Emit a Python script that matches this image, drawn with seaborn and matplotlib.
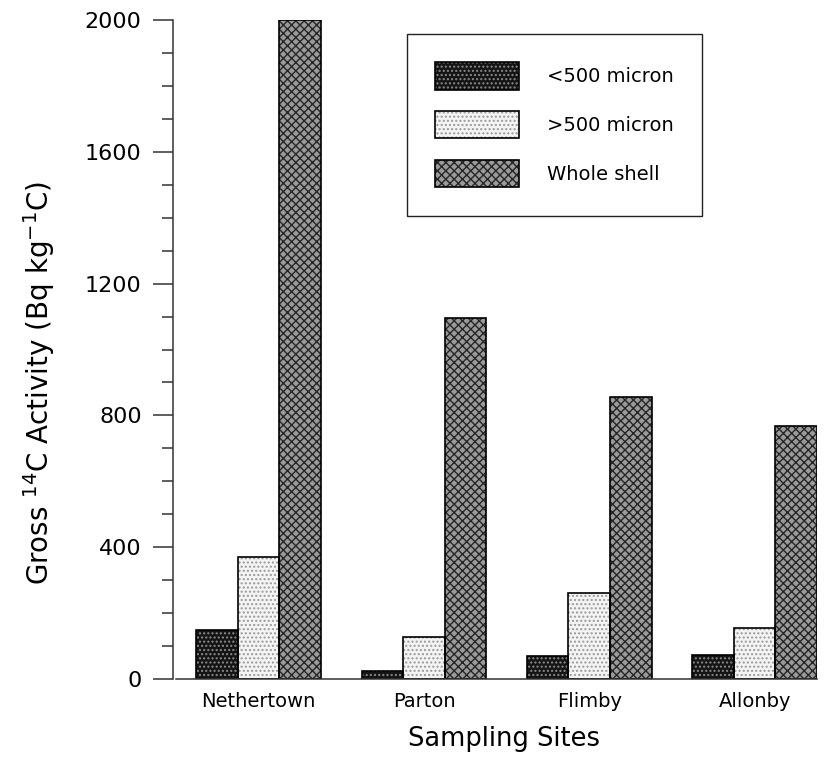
import matplotlib
matplotlib.use('Agg')
import matplotlib.pyplot as plt
from matplotlib.ticker import MultipleLocator
import seaborn as sns
import pandas as pd

# values (Bq kg-1 C)
sites = ['Nethertown', 'Parton', 'Flimby', 'Allonby']
fractions = ['<500 micron', '>500 micron', 'Whole shell']
fine = [150, 25, 70, 72]
coarse = [370, 128, 260, 154]
whole = [2000, 1095, 857, 769]

df = pd.DataFrame({
    'site': sites * 3,
    'fraction': [f for f in fractions for _ in sites],
    'activity': fine + coarse + whole,
})

sns.set_style('ticks')
plt.rcParams['font.family'] = ['DejaVu Sans']
plt.rcParams['hatch.linewidth'] = 1.0
plt.rcParams['text.color'] = 'black'
plt.rcParams['axes.labelcolor'] = 'black'
plt.rcParams['xtick.color'] = 'black'
plt.rcParams['ytick.color'] = 'black'

fig = plt.figure(figsize=(8.3, 7.69), dpi=100)
ax = fig.add_axes([0.2084, 0.117, 0.7759, 0.857])

# stippled fills: base colour + dot colour + hatch
fills = ['#141414', '#f4f4f4', '#9a9a9a']
dots = ['#8a8a8a', '#9a9a9a', '#262626']
hatches = ['....', '....', 'xxxx']

sns.barplot(data=df, x='site', y='activity', hue='fraction', order=sites,
            hue_order=fractions, palette=fills, width=0.755, legend=False,
            ax=ax, linewidth=0)
for cont, ec, h in zip(ax.containers, dots, hatches):
    for p in cont:
        p.set_edgecolor(ec)
        p.set_hatch(h)
        p.set_linewidth(0)
n_fill = len(ax.containers)

# black outlines drawn on top
sns.barplot(data=df, x='site', y='activity', hue='fraction', order=sites,
            hue_order=fractions, palette=['black'] * 3, width=0.755,
            fill=False, legend=False, ax=ax, linewidth=1.2)
outlines = ax.containers[n_fill:]
fills_c = ax.containers[:n_fill]

ax.set_xlim(-0.518, 3.377)
ax.set_ylim(0, 2000)
ax.yaxis.set_major_locator(MultipleLocator(400))
ax.yaxis.set_minor_locator(MultipleLocator(100))
ax.tick_params(axis='y', which='major', direction='out', length=14.5,
               width=1.1, labelsize=16, pad=8, color='#333333',
               labelcolor='black')
ax.tick_params(axis='y', which='minor', direction='out', length=8,
               width=1.1, color='#333333')
ax.tick_params(axis='x', length=0, labelsize=14, pad=9, labelcolor='black')

sns.despine(ax=ax)
for s in ['left', 'bottom']:
    ax.spines[s].set_linewidth(1.1)
    ax.spines[s].set_color('#333333')
ax.spines['bottom'].set_bounds(-0.5, 3.377)

ax.set_xlabel('Sampling Sites', fontsize=18.5, color='black')
ax.xaxis.set_label_coords(0.514, -0.071)
ax.set_ylabel('Gross $^{14}$C Activity (Bq kg$^{-1}$C)', fontsize=20,
              color='black')
ax.yaxis.set_label_coords(-0.18, 0.45)

handles = [(f, o) for f, o in zip(fills_c, outlines)]
leg = ax.legend(handles, fractions, loc='upper left',
                bbox_to_anchor=(0.363, 0.979), borderaxespad=0,
                fontsize=14, handlelength=4.3, handleheight=1.8,
                handletextpad=1.45, labelspacing=1.1, borderpad=1.45,
                frameon=True, fancybox=False, framealpha=1, edgecolor='#222222')
leg.get_frame().set_linewidth(1.0)
for t in leg.get_texts():
    t.set_color('black')

fig.savefig('out.png', dpi=100)
